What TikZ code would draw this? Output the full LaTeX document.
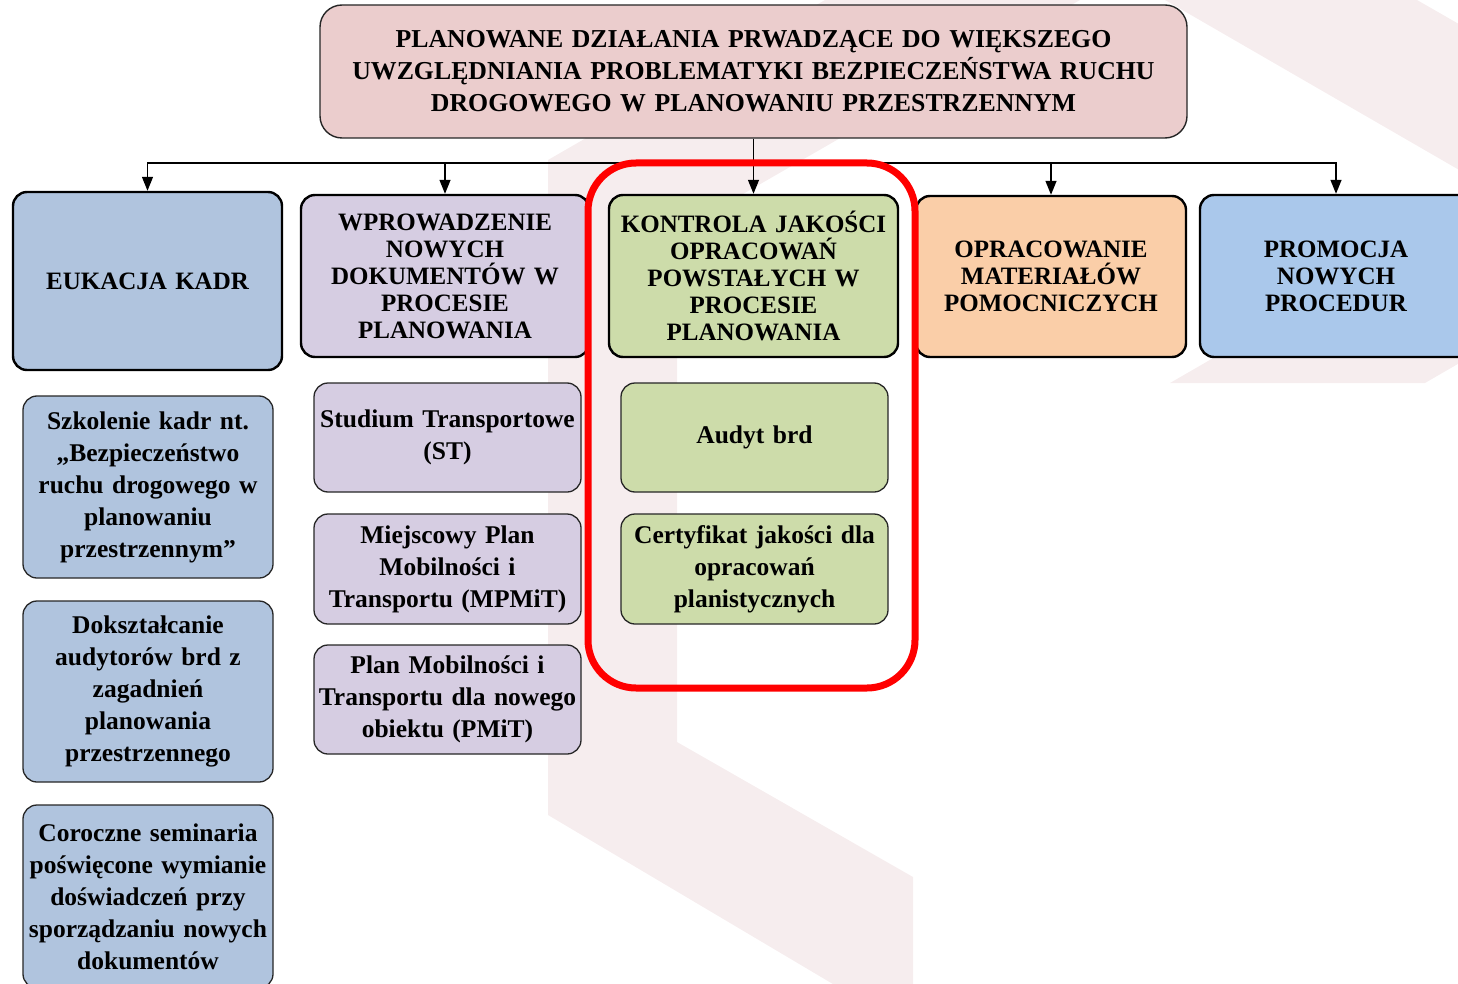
\documentclass[tikz,border=0pt]{standalone}
\usepackage{fontspec}
\setmainfont{Liberation Serif}
\usetikzlibrary{arrows.meta}
\definecolor{wm}{RGB}{246,237,238}
\definecolor{topc}{RGB}{235,205,205}
\definecolor{euc}{RGB}{176,196,222}
\definecolor{wpc}{RGB}{214,205,226}
\definecolor{koc}{RGB}{205,220,170}
\definecolor{opc}{RGB}{250,206,168}
\definecolor{prc}{RGB}{170,200,235}
\definecolor{hlred}{RGB}{255,0,0}
\begin{document}
\begin{tikzpicture}[x=1pt,y=-1pt,
  topbox/.style={draw=black!85, line width=1.4pt, rounded corners=22pt, fill=topc, align=center, inner sep=0pt,
    font=\fontsize{25.8}{32}\selectfont\bfseries},
  hdr/.style={draw=black, line width=2.4pt, rounded corners=14pt, align=center, inner sep=0pt,
    font=\fontsize{25}{27}\selectfont\bfseries},
  sub/.style={draw=black!85, line width=1.3pt, rounded corners=14pt, align=center, inner sep=0pt,
    font=\fontsize{25.5}{32}\selectfont\bfseries},
  conn/.style={draw=black, line width=1.3pt},
  arr/.style={conn, -{Triangle[length=14pt,width=11pt]}},
  hilite/.style={draw=hlred, line width=7pt, rounded corners=48pt, inner sep=0pt}
]
\useasboundingbox (0,0) rectangle (1458,984);
% watermark
\begin{scope}
\clip (0,0) rectangle (1458,984);
\fill[wm] (548,815) -- (548,160) -- (825,0) -- (1080,0) -- (677,232) -- (677,742) -- (913,877) -- (913,990) -- (843,990) -- cycle;
\fill[wm] (1165,0) -- (1499,193) -- (1170,383) -- (1425,383) -- (1753,193) -- (1417,0) -- cycle;
\end{scope}

% top
\node[topbox, minimum width=867pt, minimum height=133pt, text width=860pt] (top) at (753.5,71.5)
  {PLANOWANE DZIAŁANIA PRWADZĄCE DO WIĘKSZEGO\\UWZGLĘDNIANIA PROBLEMATYKI BEZPIECZEŃSTWA RUCHU\\DROGOWEGO W PLANOWANIU PRZESTRZENNYM};

% headers
\node[hdr, fill=euc, minimum width=269pt, minimum height=178pt, text width=265pt] (eu) at (147.5,281) {EUKACJA KADR};
\node[hdr, fill=wpc, minimum width=288pt, minimum height=162pt, text width=284pt] (wp) at (445,276) {WPROWADZENIE\\NOWYCH\\DOKUMENTÓW W\\PROCESIE\\PLANOWANIA};
\node[hdr, fill=koc, minimum width=289pt, minimum height=162pt, text width=285pt] (ko) at (753.5,276) {KONTROLA JAKOŚCI\\OPRACOWAŃ\\POWSTAŁYCH W\\PROCESIE\\PLANOWANIA};
\node[hdr, fill=opc, minimum width=270pt, minimum height=161pt, text width=266pt] (op) at (1051,276.5) {OPRACOWANIE\\MATERIAŁÓW\\POMOCNICZYCH};
\node[hdr, fill=prc, minimum width=272pt, minimum height=162pt, text width=268pt] (pr) at (1336,276) {PROMOCJA\\NOWYCH\\PROCEDUR};

% connectors
\coordinate (bus) at (753.5,163);
\draw[conn] (top.south) -- (bus);
\foreach \n in {eu,wp,op,pr} \draw[arr] (bus) -| (\n.north);
\draw[arr] (bus) -- (ko.north);

% highlight
\node[hilite, minimum width=327pt, minimum height=525pt] (hl) at (751.5,425.5) {};

% column 1
\node[sub, fill=euc, minimum width=250pt, minimum height=182pt, text width=248pt] (sz) at (148,487) {Szkolenie kadr nt.\\„Bezpieczeństwo\\ruchu drogowego w\\planowaniu\\przestrzennym”};
\node[sub, fill=euc, minimum width=250pt, minimum height=181pt, text width=248pt] (dk) at (148,691.5) {Dokształcanie\\audytorów brd z\\zagadnień\\planowania\\przestrzennego};
\node[sub, fill=euc, minimum width=250pt, minimum height=183pt, text width=248pt] (cs) at (148,896.5) {Coroczne seminaria\\poświęcone wymianie\\doświadczeń przy\\sporządzaniu nowych\\dokumentów};

% column 2
\node[sub, fill=wpc, minimum width=267pt, minimum height=109pt, text width=265pt] (st) at (447.5,437.5) {Studium Transportowe\\(ST)};
\node[sub, fill=wpc, minimum width=267pt, minimum height=110pt, text width=265pt] (mp) at (447.5,569) {Miejscowy Plan\\Mobilności i\\Transportu (MPMiT)};
\node[sub, fill=wpc, minimum width=267pt, minimum height=109pt, text width=265pt] (pm) at (447.5,699.5) {Plan Mobilności i\\Transportu dla nowego\\obiektu (PMiT)};

% column 3
\node[sub, fill=koc, minimum width=267pt, minimum height=109pt, text width=265pt] (au) at (754.5,437.5) {Audyt brd};
\node[sub, fill=koc, minimum width=267pt, minimum height=110pt, text width=265pt] (cj) at (754.5,569) {Certyfikat jakości dla\\opracowań\\planistycznych};
\end{tikzpicture}
\end{document}
